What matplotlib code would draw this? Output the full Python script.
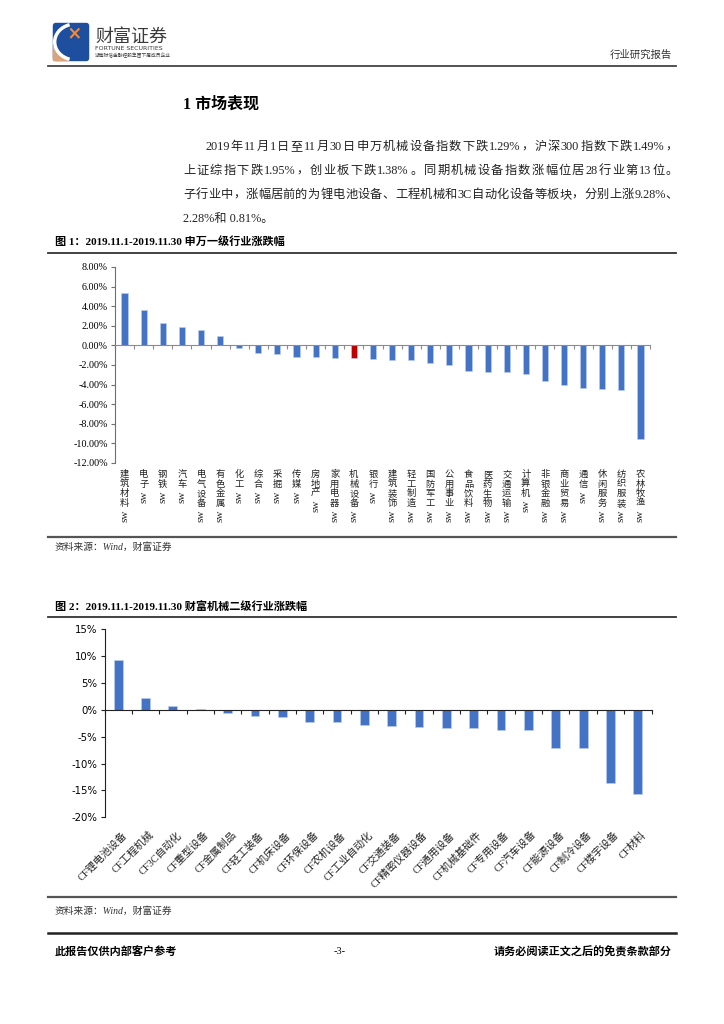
import re
import numpy as np
import matplotlib.pyplot as plt
from matplotlib import patches
from matplotlib.lines import Line2D
from matplotlib.ticker import FuncFormatter

# ---- data ----
sw_names = ['sw建筑材料', 'sw电子', 'sw钢铁', 'sw汽车', 'sw电气设备', 'sw有色金属', 'sw化工',
            'sw综合', 'sw采掘', 'sw传媒', 'sw房地产', 'sw家用电器', 'sw机械设备', 'sw银行',
            'sw建筑装饰', 'sw轻工制造', 'sw国防军工', 'sw公用事业', 'sw食品饮料', 'sw医药生物',
            'sw交通运输', 'sw计算机', 'sw非银金融', 'sw商业贸易', 'sw通信', 'sw休闲服务',
            'sw纺织服装', 'sw农林牧渔']
sw_values = [5.33, 3.65, 2.28, 1.87, 1.60, 0.95, -0.24, -0.79, -0.92, -1.16, -1.18, -1.26,
             -1.29, -1.37, -1.47, -1.53, -1.77, -2.05, -2.59, -2.69, -2.70, -2.90, -3.62,
             -4.09, -4.30, -4.47, -4.53, -9.59]
sw_highlight = 'sw机械设备'

cf_names = ['CF锂电池设备', 'CF工程机械', 'CF3C自动化', 'CF重型设备', 'CF金属制品', 'CF轻工装备',
            'CF机床设备', 'CF环保设备', 'CF农机设备', 'CF工业自动化', 'CF交通装备', 'CF精密仪器设备',
            'CF通用设备', 'CF机械基础件', 'CF专用设备', 'CF汽车设备', 'CF能源设备', 'CF制冷设备',
            'CF楼宇设备', 'CF材料']
cf_values = [9.28, 2.28, 0.81, 0.25, -0.60, -1.05, -1.38, -2.18, -2.18, -2.75, -3.05, -3.24,
             -3.43, -3.43, -3.73, -3.73, -7.04, -7.17, -13.6, -15.7]

W, H = 724, 1024
CJK = 'Noto Sans CJK SC'
SERIF = ['Liberation Serif', CJK]
SANS = ['DejaVu Sans', CJK]
BLUE = '#4472C4'
RED = '#C00000'

plt.rcParams['font.family'] = SERIF


def fx(x):
    return x / W


def fy(y):
    return 1 - y / H


def hline(y, x0=48, x1=676, color='#333333', lw=1.2):
    fig.add_artist(Line2D([fx(x0), fx(x1)], [fy(y), fy(y)], color=color, lw=lw))


def justified(x0, x1, y, text, **kw):
    # spread tokens evenly between x0 and x1 (pixels)
    tokens = re.findall(r'[A-Za-z0-9.%]+|\S', text)
    rend = fig.canvas.get_renderer()
    items = []
    for tok in tokens:
        t = fig.text(0, fy(y), tok, va='center', **kw)
        items.append((t, t.get_window_extent(rend).width))
    gap = (x1 - x0 - sum(w for _, w in items)) / (len(items) - 1)
    x = x0
    for t, w in items:
        t.set_x(fx(x))
        x += w + gap


fig = plt.figure(figsize=(7.24, 10.24), dpi=100)

# ---- page header ----
lax = fig.add_axes([fx(52), fy(62), 38 / W, 40 / H])
lax.set_xlim(0, 1)
lax.set_ylim(0, 1)
lax.axis('off')
lax.add_patch(patches.FancyBboxPatch((0.02, 0.02), 0.96, 0.96, boxstyle='round,pad=0,rounding_size=0.08',
                                     fc='#1d4f9e', ec='none'))
lax.add_patch(patches.Polygon([(0.02, 0.02), (0.45, 0.02), (0.02, 0.4)], fc='#d8a57c', ec='none'))
lax.add_patch(patches.Arc((0.62, 0.5), 1.1, 0.9, theta1=110, theta2=250, color='white', lw=2.5))
lax.plot([0.5, 0.7], [0.62, 0.82], color='#f08a3c', lw=1.5)
lax.plot([0.5, 0.7], [0.82, 0.62], color='#f08a3c', lw=1.5)

fig.text(fx(95), fy(37), '财富证券', fontsize=13, family=CJK, color='#3a3a3a', va='center')
fig.text(fx(95), fy(48), 'FORTUNE SECURITIES', fontsize=4.5, family='DejaVu Sans', color='#3a3a3a', va='center')
fig.text(fx(95), fy(56), '湖南财信金融控股集团下属成员企业', fontsize=3.4, family=CJK, color='#3a3a3a', va='center')
fig.text(fx(672), fy(55), '行业研究报告', fontsize=7.5, family=CJK, color='#333333', ha='right', va='center')
hline(66, color='#444444', lw=1.3)

# ---- section text ----
fig.text(fx(183), fy(105), '1 市场表现', fontsize=11.5, fontweight='bold', family=SERIF, va='center')
body = ['2019年11月1日至11月30日申万机械设备指数下跌1.29%，沪深300指数下跌1.49%，',
        '上证综指下跌 1.95%， 创业板下跌 1.38%。同期机械设备指数涨幅位居 28 行业第 13 位。',
        '子行业中，涨幅居前的为锂电池设备、工程机械和3C 自动化设备等板块，分别上涨 9.28%、']
body_x = [205, 183, 183]
body_y = [147, 171, 195]
for t, x, y in zip(body, body_x, body_y):
    justified(x, 678, y, t, fontsize=8.8, family=SERIF, color='#222222')
fig.text(fx(183), fy(219), '2.28%和 0.81%。', fontsize=8.8, family=SERIF, va='center', color='#222222')

# ---- figure 1 ----
fig.text(fx(55), fy(241), '图 1：2019.11.1-2019.11.30 申万一级行业涨跌幅', fontsize=8,
         fontweight='bold', family=SERIF, va='center')
hline(253, color='#333333', lw=1.3)

ax1 = fig.add_axes([fx(115), fy(463), 535 / W, 196 / H])
x1 = np.arange(len(sw_names))
colors1 = [RED if n == sw_highlight else BLUE for n in sw_names]
ax1.bar(x1, sw_values, width=0.32, color=colors1, edgecolor='#bcd0ee', linewidth=0.4, zorder=2)
ax1.set_xlim(-0.5, len(sw_names) - 0.5)
ax1.set_ylim(-12, 8)
ax1.set_yticks(np.arange(-12, 8.01, 2))
ax1.yaxis.set_major_formatter(FuncFormatter(lambda v, p: f'{v:.2f}%'))
ax1.set_xticks(np.arange(-0.5, len(sw_names), 1))
ax1.set_xticklabels([])
for s in ['top', 'right']:
    ax1.spines[s].set_visible(False)
ax1.spines['bottom'].set_position(('data', 0))
ax1.spines['bottom'].set_color('#8c8c8c')
ax1.spines['left'].set_color('#6e6e6e')
ax1.tick_params(axis='x', direction='out', length=3, color='#8c8c8c', width=0.8)
ax1.tick_params(axis='y', direction='out', length=3, color='#6e6e6e', labelsize=7.3, pad=2)
for lab in ax1.get_yticklabels():
    lab.set_family(SERIF)

xt = ax1.get_xaxis_transform()
pitch = 9.6
for i, name in enumerate(sw_names):
    chars = name[2:]
    for j, ch in enumerate(chars):
        ax1.annotate(ch, xy=(i, 0), xycoords=xt, xytext=(0, -7 - j * pitch), textcoords='offset pixels',
                     ha='center', va='top', fontsize=6.7, family=CJK, color='#222222')
    ax1.annotate('sw', xy=(i, 0), xycoords=xt, xytext=(0, -8 - len(chars) * pitch),
                 textcoords='offset pixels', ha='center', va='top', rotation=90,
                 fontsize=8, family=SERIF, color='#222222')

hline(537, color='#555555', lw=1.6)
fig.text(fx(55), fy(547), '资料来源：Wind，财富证券', fontsize=7, style='italic', family=SERIF,
         va='center', color='#333333')

# ---- figure 2 ----
fig.text(fx(55), fy(606), '图 2：2019.11.1-2019.11.30 财富机械二级行业涨跌幅', fontsize=8,
         fontweight='bold', family=SERIF, va='center')
hline(617, color='#333333', lw=1.3)

ax2 = fig.add_axes([fx(104.5), fy(817.3), 547 / W, 188 / H])
x2 = np.arange(len(cf_names))
ax2.bar(x2, cf_values, width=0.32, color=BLUE, edgecolor='#bcd0ee', linewidth=0.4, zorder=2)
ax2.set_xlim(-0.5, len(cf_names) - 0.5)
ax2.set_ylim(-20, 15)
ax2.set_yticks(np.arange(-20, 15.1, 5))
ax2.yaxis.set_major_formatter(FuncFormatter(lambda v, p: f'{v:.0f}%'))
ax2.set_xticks(np.arange(-0.5, len(cf_names), 1))
ax2.set_xticklabels([])
for s in ['top', 'right']:
    ax2.spines[s].set_visible(False)
ax2.spines['bottom'].set_position(('data', 0))
ax2.spines['bottom'].set_color('#222222')
ax2.spines['left'].set_color('#222222')
ax2.tick_params(axis='x', direction='out', length=3, color='#222222', width=0.8)
ax2.tick_params(axis='y', direction='out', length=3, color='#222222', labelsize=7.3, pad=2)
for lab in ax2.get_yticklabels():
    lab.set_family(SANS)

xt2 = ax2.get_xaxis_transform()
for i, name in enumerate(cf_names):
    ax2.annotate(name, xy=(i, 0), xycoords=xt2, xytext=(7, -16), textcoords='offset pixels',
                 ha='right', va='center', rotation=45, rotation_mode='anchor',
                 fontsize=7.5, family=SERIF, color='#222222')

hline(897, color='#555555', lw=1.6)
fig.text(fx(55), fy(911), '资料来源：Wind，财富证券', fontsize=7, style='italic', family=SERIF,
         va='center', color='#333333')

# ---- footer ----
hline(933, color='#222222', lw=1.8)
fig.text(fx(55), fy(952), '此报告仅供内部客户参考', fontsize=8, fontweight='bold', family=CJK, va='center')
fig.text(fx(340), fy(952), '-3-', fontsize=7.5, family=SERIF, va='center', ha='center')
fig.text(fx(672), fy(952), '请务必阅读正文之后的免责条款部分', fontsize=8, fontweight='bold', family=CJK,
         va='center', ha='right')

fig.savefig('out.png', dpi=100, facecolor='white')
